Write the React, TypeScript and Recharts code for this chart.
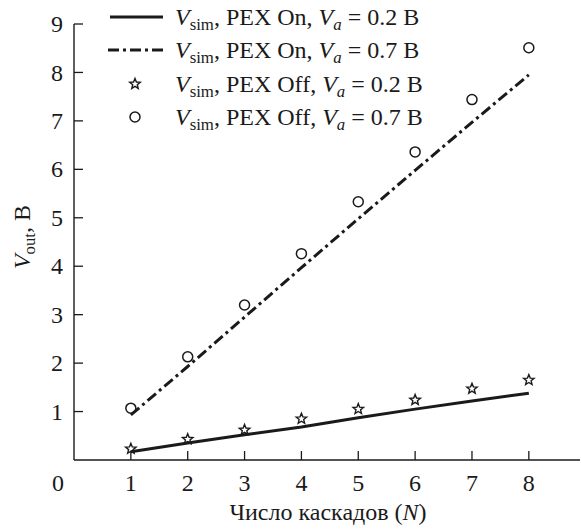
import React from 'react';
import { ComposedChart, Line, Scatter, XAxis, YAxis, Legend } from 'recharts';

const stages = [1, 2, 3, 4, 5, 6, 7, 8];
const pexOn02 = [0.17, 0.35, 0.52, 0.68, 0.87, 1.05, 1.22, 1.38];
const pexOn07 = [0.93, 1.93, 2.95, 3.97, 4.98, 5.98, 6.97, 7.95];
const pexOff02 = [0.23, 0.43, 0.62, 0.85, 1.05, 1.24, 1.47, 1.65];
const pexOff07 = [1.07, 2.13, 3.2, 4.26, 5.33, 6.36, 7.44, 8.51];
const xTicks = [0, 1, 2, 3, 4, 5, 6, 7, 8];
const yTicks = [1, 2, 3, 4, 5, 6, 7, 8, 9];

const data = stages.map((n, i) => ({
  n,
  on02: pexOn02[i],
  on07: pexOn07[i],
  off02: pexOff02[i],
  off07: pexOff07[i],
}));

const FONT = "'Liberation Serif', 'DejaVu Serif', serif";
const FS = 24;
const INK = '#1a1a1a';
const DASHDOT = '11 4 3 4';

const starPath = (cx: number, cy: number, ro: number, ri: number) => {
  let d = '';
  for (let k = 0; k < 10; k++) {
    const r = k % 2 === 0 ? ro : ri;
    const a = -Math.PI / 2 + (k * Math.PI) / 5;
    d += (k === 0 ? 'M' : 'L') + (cx + r * Math.cos(a)).toFixed(2) + ',' + (cy + r * Math.sin(a)).toFixed(2);
  }
  return d + 'Z';
};

const StarShape = (props: any) => {
  const { cx, cy } = props;
  if (cx == null || cy == null) return null;
  return <path d={starPath(cx, cy, 5.5, 2.4)} fill="none" stroke={INK} strokeWidth={1.4} strokeLinejoin="miter" />;
};

const CircleShape = (props: any) => {
  const { cx, cy } = props;
  if (cx == null || cy == null) return null;
  return <circle cx={cx} cy={cy} r={5} fill="none" stroke={INK} strokeWidth={1.5} />;
};

const XTick = (props: any) => {
  const { x, y, payload } = props;
  const v = payload.value;
  return (
    <g>
      {v !== 0 && <line x1={x} x2={x} y1={y} y2={y - 9} stroke={INK} strokeWidth={1.3} />}
      <text x={v === 0 ? x - 16 : x} y={y + 31} textAnchor="middle" style={{ fontFamily: FONT }} fontSize={FS} fill={INK}>
        {v}
      </text>
    </g>
  );
};

const YTick = (props: any) => {
  const { x, y, payload } = props;
  return (
    <g>
      <line x1={x} x2={x + 9} y1={y} y2={y} stroke={INK} strokeWidth={1.3} />
      <text x={x - 11} y={y} dy="0.34em" textAnchor="end" style={{ fontFamily: FONT }} fontSize={FS} fill={INK}>
        {payload.value}
      </text>
    </g>
  );
};

const XLabel = (props: any) => {
  const vb = props.viewBox || { x: 74, y: 460, width: 506, height: 69 };
  const cx = vb.x + vb.width / 2 + 1;
  return (
    <text x={cx} y={vb.y + 60} textAnchor="middle" style={{ fontFamily: FONT }} fontSize={FS} fill={INK}>
      Число каскадов (<tspan fontStyle="italic">N</tspan>)
    </text>
  );
};

const YLabel = (props: any) => {
  const vb = props.viewBox || { x: 0, y: 24, width: 74, height: 436 };
  const cx = vb.x + 30;
  const cy = vb.y + vb.height / 2 - 5;
  return (
    <text x={cx} y={cy} transform={`rotate(-90 ${cx} ${cy})`} textAnchor="middle" style={{ fontFamily: FONT }} fontSize={FS} fill={INK}>
      <tspan fontStyle="italic">V</tspan>
      <tspan fontSize={FS * 0.7} dy={5}>out</tspan>
      <tspan dy={-5}>, В</tspan>
    </text>
  );
};

const Sub = ({ children }: any) => (
  <span style={{ fontSize: '0.7em', position: 'relative', top: '0.3em' }}>{children}</span>
);

const legendRows = [
  { kind: 'solid', label: 'On', va: '0.2' },
  { kind: 'dashdot', label: 'On', va: '0.7' },
  { kind: 'star', label: 'Off', va: '0.2' },
  { kind: 'circle', label: 'Off', va: '0.7' },
];

const LegendBox = () => (
  <div style={{ fontFamily: FONT, fontSize: FS, color: INK }}>
    {legendRows.map((r, i) => (
      <div key={i} style={{ display: 'flex', alignItems: 'center', height: 33.5, whiteSpace: 'nowrap' }}>
        <svg width={72} height={20} style={{ display: 'block' }}>
          {r.kind === 'solid' && <line x1={10} x2={63} y1={10} y2={10} stroke={INK} strokeWidth={3} />}
          {r.kind === 'dashdot' && (
            <line x1={8} x2={63} y1={10} y2={10} stroke={INK} strokeWidth={3} strokeDasharray={DASHDOT} />
          )}
          {r.kind === 'star' && <StarShape cx={35} cy={10} />}
          {r.kind === 'circle' && <CircleShape cx={35} cy={10} />}
        </svg>
        <span style={{ marginLeft: 3, lineHeight: 1 }}>
          <i>V</i>
          <Sub>sim</Sub>, PEX {r.label}, <i>V</i>
          <Sub>
            <i>a</i>
          </Sub>{' '}
          = {r.va} В
        </span>
      </div>
    ))}
  </div>
);

export default function App() {
  return (
    <div style={{ position: 'absolute', left: 0, top: 0, width: 581, height: 529, background: '#fff', fontFamily: FONT }}>
      <ComposedChart width={581} height={529} data={data} margin={{ top: 24, right: 1, bottom: 0, left: 0 }}>
        <XAxis
          dataKey="n"
          type="number"
          domain={[0, 8.9]}
          ticks={xTicks}
          allowDataOverflow
          height={69}
          tickSize={0}
          tickMargin={0}
          tickLine={false}
          axisLine={{ stroke: INK, strokeWidth: 1.4 }}
          tick={<XTick />}
          interval={0}
          label={{ content: (p: any) => <XLabel {...p} /> }}
        />
        <YAxis
          type="number"
          domain={[0, 9]}
          ticks={yTicks}
          allowDataOverflow
          width={74}
          tickSize={0}
          tickMargin={0}
          tickLine={false}
          axisLine={{ stroke: INK, strokeWidth: 1.4 }}
          tick={<YTick />}
          interval={0}
          label={{ content: (p: any) => <YLabel {...p} /> }}
        />
        <Legend
          layout="horizontal"
          verticalAlign="middle"
          align="center"
          wrapperStyle={{ position: 'absolute', top: 0, left: 100, width: 'auto', height: 'auto' }}
          content={() => <LegendBox />}
        />
        <Line dataKey="on02" type="linear" stroke={INK} strokeWidth={3} dot={false} isAnimationActive={false} />
        <Line
          dataKey="on07"
          type="linear"
          stroke={INK}
          strokeWidth={3}
          strokeDasharray={DASHDOT}
          dot={false}
          isAnimationActive={false}
        />
        <Scatter dataKey="off02" shape={<StarShape />} isAnimationActive={false} />
        <Scatter dataKey="off07" shape={<CircleShape />} isAnimationActive={false} />
      </ComposedChart>
    </div>
  );
}
